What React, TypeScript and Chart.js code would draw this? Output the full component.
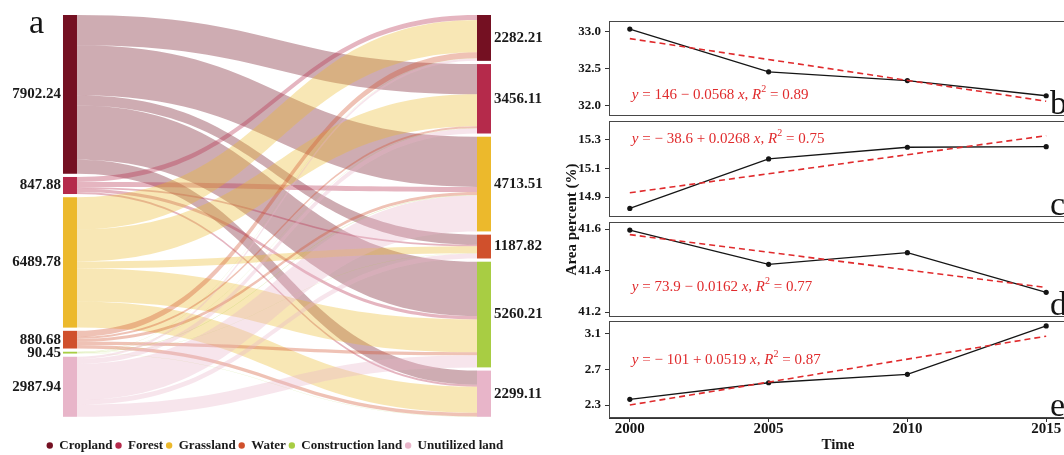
import React, { useEffect, useRef } from 'react';
import { Chart, registerables } from 'chart.js';

Chart.register(...registerables);

const SERIF = "'Liberation Serif', 'Times New Roman', serif";
Chart.defaults.font.family = SERIF;

// ---------------- Sankey (land-use transfer) data ----------------
const LAND_TYPES = ['Cropland', 'Forest', 'Grassland', 'Water', 'Construction land', 'Unutilized land'];
const LAND_COLORS = ['#741022', '#b52a4b', '#ecb92c', '#d0502c', '#a8cd43', '#e8b5c9'];
const AREA_OUT = [7902.24, 847.88, 6489.78, 880.68, 90.45, 2987.94];
const AREA_IN = [2282.21, 3456.11, 4713.51, 1187.82, 5260.21, 2299.11];
// transfers from each class (columns in LAND_TYPES order)
const FROM_CROPLAND = [0, 1500, 2500, 500, 2701.92, 700.32];
const FROM_FOREST = [250, 0, 250, 80, 170, 97.88];
const FROM_GRASSLAND = [1600, 1600, 0, 350, 1640, 1299.78];
const FROM_WATER = [300, 100, 150, 0, 150, 180.68];
const FROM_CONSTRUCTION = [20, 10, 30, 10, 0, 20.45];
const FROM_UNUTILIZED = [112.21, 246.11, 1783.51, 247.82, 598.29, 0];
const TRANSFERS = [FROM_CROPLAND, FROM_FOREST, FROM_GRASSLAND, FROM_WATER, FROM_CONSTRUCTION, FROM_UNUTILIZED];

const NODE_GAP = 160;
const SANKEY_Y_MAX = 20955;
const SANKEY_X_MIN = -0.1238;
const SANKEY_X_MAX = 1.1145;
const NODE_WIDTH = 0.0327;
const FLOW_ALPHA = 0.35;

// ---------------- Trend panels data ----------------
const YEARS = [2000, 2005, 2010, 2015];
const X_TICKS = [2000, 2005, 2010, 2015];
const FIT_YEARS = [2000, 2015];

const SERIES_B = [33.04, 32.46, 32.34, 32.135];
const FIT_B = [32.91, 32.06];
const TICKS_B = [32.0, 32.5, 33.0];
const RANGE_B = [31.86, 33.149];
const EQ_B = [['y', 'i'], [' = 146 \u2212 0.0568 ', 'n'], ['x', 'i'], [', ', 'n'], ['R', 'i'], ['2', 's'], [' = 0.89', 'n']];

const SERIES_C = [14.82, 15.167, 15.249, 15.253];
const FIT_C = [14.93, 15.33];
const TICKS_C = [14.9, 15.1, 15.3];
const RANGE_C = [14.76, 15.433];
const EQ_C = [['y', 'i'], [' = \u2212 38.6 + 0.0268 ', 'n'], ['x', 'i'], [', ', 'n'], ['R', 'i'], ['2', 's'], [' = 0.75', 'n']];

const SERIES_D = [41.595, 41.43, 41.486, 41.295];
const FIT_D = [41.573, 41.318];
const TICKS_D = [41.2, 41.4, 41.6];
const RANGE_D = [41.176, 41.634];
const EQ_D = [['y', 'i'], [' = 73.9 \u2212 0.0162 ', 'n'], ['x', 'i'], [', ', 'n'], ['R', 'i'], ['2', 's'], [' = 0.77', 'n']];

const SERIES_E = [2.364, 2.551, 2.646, 3.19];
const FIT_E = [2.30, 3.075];
const TICKS_E = [2.3, 2.7, 3.1];
const RANGE_E = [2.154, 3.246];
const EQ_E = [['y', 'i'], [' = \u2212 101 + 0.0519 ', 'n'], ['x', 'i'], [', ', 'n'], ['R', 'i'], ['2', 's'], [' = 0.87', 'n']];

const EQ_Y = [32.145, 15.305, 41.319, 2.805];
const PANEL_LETTERS = ['b', 'c', 'd', 'e'];
const X_RANGE = [1999.25, 2015.75];

const PANELS = [
  { series: SERIES_B, fit: FIT_B, ticks: TICKS_B, range: RANGE_B, eq: EQ_B },
  { series: SERIES_C, fit: FIT_C, ticks: TICKS_C, range: RANGE_C, eq: EQ_C },
  { series: SERIES_D, fit: FIT_D, ticks: TICKS_D, range: RANGE_D, eq: EQ_D },
  { series: SERIES_E, fit: FIT_E, ticks: TICKS_E, range: RANGE_E, eq: EQ_E },
];
// page layout of the four panel boxes (pixels)
const PANEL_BOXES = [
  { top: 21, bottom: 116 },
  { top: 121, bottom: 217 },
  { top: 222, bottom: 317 },
  { top: 321, bottom: 418 },
];
const PANEL_MARGIN = 14;

const RED = '#e02b2d';
const INK = '#151515';

function rgba(hex: string, a: number) {
  const n = parseInt(hex.slice(1), 16);
  return `rgba(${(n >> 16) & 255},${(n >> 8) & 255},${n & 255},${a})`;
}

const sankeyPlugin = {
  id: 'sankeyDraw',
  afterDatasetsDraw(chart: any) {
    const { ctx } = chart;
    const xs = chart.scales.x;
    const ys = chart.scales.y;
    const xL0 = xs.getPixelForValue(0);
    const xL1 = xs.getPixelForValue(NODE_WIDTH);
    const xR0 = xs.getPixelForValue(1 - NODE_WIDTH);
    const xR1 = xs.getPixelForValue(1);

    const leftStart: number[] = [];
    let acc = 0;
    AREA_OUT.forEach((v) => { leftStart.push(acc); acc += v + NODE_GAP; });
    const rightStart: number[] = [];
    acc = 0;
    AREA_IN.forEach((v) => { rightStart.push(acc); acc += v + NODE_GAP; });

    const outOff = leftStart.slice();
    const inOff = rightStart.slice();
    const flows: any[] = [];
    const grid: any[][] = TRANSFERS.map(() => []);
    TRANSFERS.forEach((row, i) => {
      row.forEach((v, j) => {
        if (v <= 0) return;
        const f = { i, j, v, s0: outOff[i], t0: 0 };
        outOff[i] += v;
        flows.push(f);
        grid[i][j] = f;
      });
    });
    for (let j = 0; j < AREA_IN.length; j++) {
      for (let i = 0; i < AREA_OUT.length; i++) {
        const f = grid[i][j];
        if (!f) continue;
        f.t0 = inOff[j];
        inOff[j] += f.v;
      }
    }

    ctx.save();
    const xm = (xL1 + xR0) / 2;
    flows.forEach((f) => {
      const ya0 = ys.getPixelForValue(f.s0);
      const yb0 = ys.getPixelForValue(f.s0 + f.v);
      const ya1 = ys.getPixelForValue(f.t0);
      const yb1 = ys.getPixelForValue(f.t0 + f.v);
      ctx.beginPath();
      ctx.moveTo(xL1, ya0);
      ctx.bezierCurveTo(xm, ya0, xm, ya1, xR0, ya1);
      ctx.lineTo(xR0, yb1);
      ctx.bezierCurveTo(xm, yb1, xm, yb0, xL1, yb0);
      ctx.closePath();
      ctx.fillStyle = rgba(LAND_COLORS[f.i], FLOW_ALPHA);
      ctx.fill();
    });

    // nodes
    AREA_OUT.forEach((v, i) => {
      const t = ys.getPixelForValue(leftStart[i]);
      const b = ys.getPixelForValue(leftStart[i] + v);
      ctx.fillStyle = LAND_COLORS[i];
      ctx.fillRect(xL0, t, xL1 - xL0, b - t);
    });
    AREA_IN.forEach((v, i) => {
      const t = ys.getPixelForValue(rightStart[i]);
      const b = ys.getPixelForValue(rightStart[i] + v);
      ctx.fillStyle = LAND_COLORS[i];
      ctx.fillRect(xR0, t, xR1 - xR0, b - t);
    });

    // node labels
    ctx.font = `bold 15px ${SERIF}`;
    ctx.fillStyle = '#1a1a1a';
    ctx.textBaseline = 'middle';
    ctx.textAlign = 'right';
    AREA_OUT.forEach((v, i) => {
      const c = ys.getPixelForValue(leftStart[i] + v / 2);
      ctx.fillText(v.toFixed(2), xL0 - 2, c);
    });
    ctx.textAlign = 'left';
    AREA_IN.forEach((v, i) => {
      const c = ys.getPixelForValue(rightStart[i] + v / 2);
      ctx.fillText(v.toFixed(2), xR1 + 3, c);
    });

    // panel letter
    ctx.font = `34px ${SERIF}`;
    ctx.fillStyle = INK;
    ctx.textAlign = 'left';
    ctx.textBaseline = 'alphabetic';
    ctx.fillText('a', xL0 - 34, chart.chartArea.top + 18);
    ctx.restore();
  },
};

function makePanelPlugin(idx: number) {
  const p = PANELS[idx];
  return {
    id: 'panelDecor' + idx,
    afterDraw(chart: any) {
      const { ctx, chartArea } = chart;
      const xs = chart.scales.x;
      const ys = chart.scales.y;
      ctx.save();
      // frame
      ctx.strokeStyle = '#474747';
      ctx.lineWidth = 1;
      ctx.strokeRect(chartArea.left + 0.5, chartArea.top + 0.5, chartArea.right - chartArea.left, chartArea.bottom - chartArea.top - 1);
      // equation
      let x = xs.getPixelForValue(YEARS[0]) + 2;
      const y = ys.getPixelForValue(EQ_Y[idx]);
      ctx.fillStyle = RED;
      ctx.textBaseline = 'middle';
      ctx.textAlign = 'left';
      p.eq.forEach(([t, s]) => {
        if (s === 's') {
          ctx.font = `10px ${SERIF}`;
          ctx.fillText(t, x, y - 6);
        } else {
          ctx.font = `${s === 'i' ? 'italic ' : ''}15px ${SERIF}`;
          ctx.fillText(t, x, y);
        }
        x += ctx.measureText(t).width;
      });
      // letter
      ctx.font = `34px ${SERIF}`;
      ctx.fillStyle = INK;
      ctx.textBaseline = 'alphabetic';
      ctx.fillText(PANEL_LETTERS[idx], chartArea.right - 17, chartArea.bottom - 2);
      ctx.restore();
    },
  };
}

export default function App() {
  const sankeyRef = useRef<HTMLCanvasElement | null>(null);
  const axesRef = useRef<HTMLCanvasElement | null>(null);
  const panelRefs = useRef<(HTMLCanvasElement | null)[]>([]);

  useEffect(() => {
    const charts: Chart[] = [];

    charts.push(new Chart(sankeyRef.current as HTMLCanvasElement, {
      type: 'scatter',
      data: {
        datasets: LAND_TYPES.map((name, i) => ({
          label: name,
          data: [],
          backgroundColor: LAND_COLORS[i],
          borderColor: LAND_COLORS[i],
          borderWidth: 0,
          pointStyle: 'circle',
        })),
      },
      options: {
        animation: false,
        responsive: false,
        events: [],
        layout: { padding: { left: 10, right: 10, top: 15, bottom: 0 } },
        scales: {
          x: { type: 'linear', display: false, min: SANKEY_X_MIN, max: SANKEY_X_MAX },
          y: { type: 'linear', display: false, min: 0, max: SANKEY_Y_MAX, reverse: true },
        },
        plugins: {
          legend: {
            display: true,
            position: 'bottom',
            labels: {
              usePointStyle: true,
              pointStyle: 'circle',
              boxWidth: 6,
              boxHeight: 4.5,
              padding: 3,
              color: '#1a1a1a',
              font: { family: SERIF, size: 13, weight: 'bold' },
            },
          },
          tooltip: { enabled: false },
        },
      } as any,
      plugins: [sankeyPlugin],
    }));

    charts.push(new Chart(axesRef.current as HTMLCanvasElement, {
      type: 'scatter',
      data: { datasets: [] },
      options: {
        animation: false,
        responsive: false,
        events: [],
        layout: { padding: { left: 0, right: 13, top: 21, bottom: 0 } },
        scales: {
          x: {
            type: 'linear',
            min: X_RANGE[0],
            max: X_RANGE[1],
            afterBuildTicks: (s: any) => { s.ticks = X_TICKS.map((v) => ({ value: v })); },
            afterFit: (s: any) => { s.height = 37; },
            ticks: {
              callback: (v: any) => String(v),
              font: { family: SERIF, size: 15, weight: 'bold', lineHeight: 1 },
              color: INK,
              padding: 0,
              maxRotation: 0,
              autoSkip: false,
            },
            grid: { display: true, drawOnChartArea: false, drawTicks: true, tickLength: 4, color: '#333' },
            border: { display: true, color: '#333' },
            title: { display: true, text: 'Time', color: INK, font: { family: SERIF, size: 15, weight: 'bold' }, padding: { top: 0, bottom: 1 } },
          },
          y: {
            type: 'linear',
            min: 0,
            max: 1,
            afterFit: (s: any) => { s.width = 49; },
            ticks: { display: false },
            grid: { display: false },
            border: { display: false },
            title: { display: true, text: 'Area percent (%)', color: INK, font: { family: SERIF, size: 15, weight: 'bold' }, padding: { top: 3, bottom: 0 } },
          },
        },
        plugins: { legend: { display: false }, tooltip: { enabled: false } },
      } as any,
    }));

    PANELS.forEach((p, idx) => {
      const canvas = panelRefs.current[idx] as HTMLCanvasElement;
      charts.push(new Chart(canvas, {
        type: 'line',
        data: {
          datasets: [
            {
              label: 'fit',
              data: FIT_YEARS.map((x, i) => ({ x, y: p.fit[i] })),
              borderColor: RED,
              borderWidth: 1.6,
              borderDash: [6, 4],
              pointRadius: 0,
              fill: false,
            },
            {
              label: 'value',
              data: YEARS.map((x, i) => ({ x, y: p.series[i] })),
              borderColor: INK,
              borderWidth: 1.3,
              pointRadius: 2.6,
              pointBackgroundColor: INK,
              pointBorderWidth: 0,
              fill: false,
            },
          ],
        },
        options: {
          animation: false,
          responsive: false,
          events: [],
          layout: { padding: { left: 0, right: 13, top: PANEL_MARGIN, bottom: PANEL_MARGIN } },
          scales: {
            x: { type: 'linear', display: false, min: X_RANGE[0], max: X_RANGE[1] },
            y: {
              type: 'linear',
              min: p.range[0],
              max: p.range[1],
              afterBuildTicks: (s: any) => { s.ticks = p.ticks.map((v) => ({ value: v })); },
              afterFit: (s: any) => { s.width = 49; },
              ticks: {
                callback: (v: any) => Number(v).toFixed(1),
                font: { family: SERIF, size: 13, weight: 'bold' },
                color: INK,
                padding: 4,
              },
              grid: { display: true, drawOnChartArea: false, drawTicks: true, tickLength: 4, color: '#333' },
              border: { display: false },
            },
          },
          plugins: { legend: { display: false }, tooltip: { enabled: false } },
        } as any,
        plugins: [makePanelPlugin(idx)],
      }));
    });

    return () => charts.forEach((c) => c.destroy());
  }, []);

  return (
    <div style={{ position: 'fixed', left: 0, top: 0, width: 1064, height: 455, overflow: 'hidden', background: '#fff' }}>
      <canvas ref={sankeyRef} width={550} height={462} style={{ position: 'absolute', left: 0, top: 0 }} />
      <canvas ref={axesRef} width={520} height={455} style={{ position: 'absolute', left: 560, top: 0 }} />
      {PANEL_BOXES.map((b, i) => (
        <canvas
          key={i}
          ref={(el) => { panelRefs.current[i] = el; }}
          width={520}
          height={b.bottom - b.top + 2 * PANEL_MARGIN}
          style={{ position: 'absolute', left: 560, top: b.top - PANEL_MARGIN }}
        />
      ))}
    </div>
  );
}
